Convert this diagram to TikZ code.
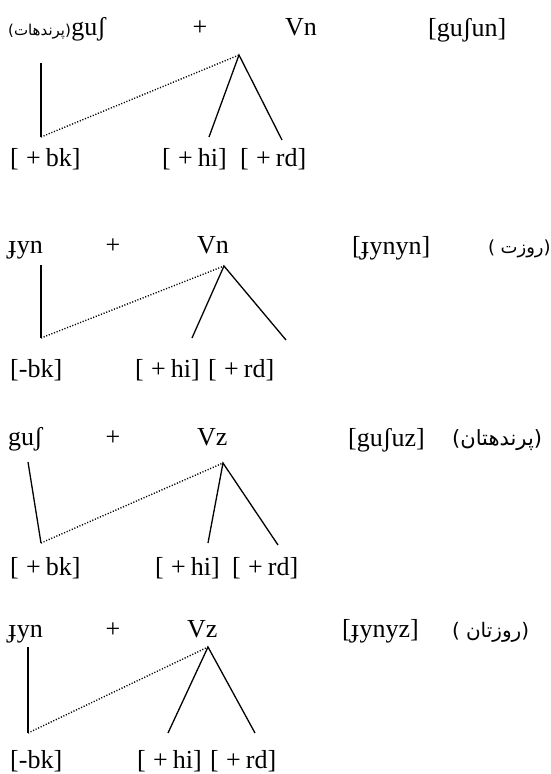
\documentclass[tikz,border=0pt]{standalone}
\usepackage{fontspec}
\setmainfont{Liberation Serif}
\newfontfamily\ar[Script=Arabic]{DejaVu Sans}
\newfontfamily\arp{DejaVu Sans}
\TeXXeTstate=1
\newcommand\fplus[1]{[\hspace{0.28em}+\hspace{0.2em}#1]}
\newcommand\arw[1]{{\ar\beginR #1\endR}}
\tikzset{
  txt/.style={inner sep=0pt, anchor=base west, font=\fontsize{26}{30}\selectfont},
  plus/.style={inner sep=0pt, anchor=base, font=\fontsize{26}{30}\selectfont},
  arab/.style={inner sep=0pt, anchor=base west, font=\arp\fontsize{#1}{22}\selectfont},
  arab/.default=18,
  tie/.style={line width=1.3pt},
  link/.style={line width=1.4pt, dash pattern=on 1.1pt off 1.7pt},
}
\begin{document}
\begin{tikzpicture}[x=1pt,y=-1pt]
\useasboundingbox (0,0) rectangle (550,774);
% ---------- block 1 ----------
\node[arab=15] (w1a) at (8,35) {(\arw{پرندهات})};
\node[txt] (w1) at (w1a.base east) {gu\char"0283};
\node[plus] (p1) at (200,35) {+};
\node[txt] (v1) at (285,35) {Vn};
\node[txt] (o1) at (428,36) {[gu\char"0283un]};
\node[txt] (f1a) at (10,166) {\fplus{bk}};
\node[txt] (f1b) at (162,166) {\fplus{hi}};
\node[txt] (f1c) at (240,166) {\fplus{rd}};
\coordinate (t1) at (41,63);
\coordinate (b1) at (41,137);
\coordinate (a1) at (239,55);
\coordinate (h1) at (209,137);
\coordinate (r1) at (282,140);
\draw[tie] (t1) -- (b1);
\draw[link] (b1) -- (a1);
\draw[tie] (h1) -- (a1) -- (r1);
% ---------- block 2 ----------
\node[txt] (w2) at (8,253) {\char"025F yn};
\node[plus] (p2) at (113,253) {+};
\node[txt] (v2) at (197,253) {Vn};
\node[txt] (o2) at (352,254) {[\char"025F ynyn]};
\node[arab=18] (g2) at (488,253) {(\hspace{0.3em}\arw{روزت})};
\node[txt] (f2a) at (10,377) {[-bk]};
\node[txt] (f2b) at (135,377) {\fplus{hi}};
\node[txt] (f2c) at (208,377) {\fplus{rd}};
\coordinate (t2) at (41,265);
\coordinate (b2) at (41,338);
\coordinate (a2) at (224,266);
\coordinate (h2) at (192,338);
\coordinate (r2) at (286,340);
\draw[tie] (t2) -- (b2);
\draw[link] (b2) -- (a2);
\draw[tie] (h2) -- (a2) -- (r2);
% ---------- block 3 ----------
\node[txt] (w3) at (8,445) {gu\char"0283};
\node[plus] (p3) at (113,445) {+};
\node[txt] (v3) at (197,445) {Vz};
\node[txt] (o3) at (348,446) {[gu\char"0283uz]};
\node[arab=21] (g3) at (452,445) {(\arw{پرندهتان})};
\node[txt] (f3a) at (10,575) {\fplus{bk}};
\node[txt] (f3b) at (155,575) {\fplus{hi}};
\node[txt] (f3c) at (232,575) {\fplus{rd}};
\coordinate (t3) at (28,462);
\coordinate (b3) at (41,543);
\coordinate (a3) at (223,463);
\coordinate (h3) at (208,543);
\coordinate (r3) at (278,545);
\draw[tie] (t3) -- (b3);
\draw[link] (b3) -- (a3);
\draw[tie] (h3) -- (a3) -- (r3);
% ---------- block 4 ----------
\node[txt] (w4) at (8,637) {\char"025F yn};
\node[plus] (p4) at (113,637) {+};
\node[txt] (v4) at (187,637) {Vz};
\node[txt] (o4) at (342,637) {[\char"025F ynyz]};
\node[arab=20] (g4) at (452,637) {(\hspace{0.3em}\arw{روزتان})};
\node[txt] (f4a) at (10,768) {[-bk]};
\node[txt] (f4b) at (137,768) {\fplus{hi}};
\node[txt] (f4c) at (210,768) {\fplus{rd}};
\coordinate (t4) at (28,647);
\coordinate (b4) at (28,733);
\coordinate (a4) at (208,647);
\coordinate (h4) at (168,733);
\coordinate (r4) at (255,733);
\draw[tie] (t4) -- (b4);
\draw[link] (b4) -- (a4);
\draw[tie] (h4) -- (a4) -- (r4);
\end{tikzpicture}
\end{document}
